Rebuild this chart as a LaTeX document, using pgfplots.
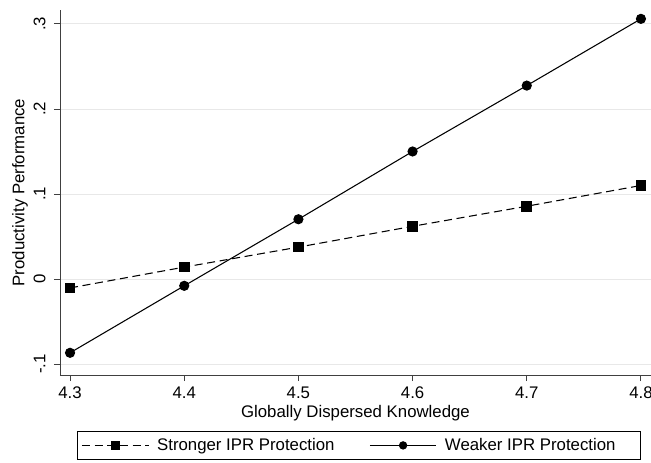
\documentclass[border=0pt]{standalone}
\usepackage{fontspec}
\setmainfont{Liberation Sans}
\usepackage{pgfplots}
\pgfplotsset{compat=1.18}
\begin{document}
\fontsize{12.6}{14}\selectfont
\begin{tikzpicture}[font=\fontsize{12.6}{14}\selectfont]
\begin{axis}[
  scale only axis,
  width=443.25pt, height=273.75pt,
  xmin=4.2912, xmax=4.8088,
  ymin=-0.1129, ymax=0.3164,
  axis x line*=bottom, axis y line*=left,
  axis line style={black!75, line width=0.7pt},
  tick style={black!75, line width=0.7pt},
  tick align=outside, major tick length=4.5pt,
  xtick={4.3,4.4,4.5,4.6,4.7,4.8},
  xticklabels={4.3,4.4,4.5,4.6,4.7,4.8},
  ytick={-0.1,0,0.1,0.2,0.3},
  yticklabels={-.1,0,.1,.2,.3},
  yticklabel style={rotate=90, anchor=south, font=\fontsize{12.6}{14}\selectfont},
  yticklabel shift=2pt,
  xticklabel style={font=\fontsize{12.6}{14}\selectfont},
  ymajorgrids,
  grid style={black!9, line width=0.7pt},
  xlabel={Globally Dispersed Knowledge},
  ylabel={Productivity Performance},
  xlabel style={at={(axis description cs:0.5,-0.1041)}, anchor=center, inner sep=0pt, font=\fontsize{12.6}{14}\selectfont},
  ylabel style={at={(axis description cs:-0.0677,0.5)}, anchor=center, inner sep=0pt, rotate=0, font=\fontsize{12.6}{14}\selectfont},
  legend columns=2,
  legend style={at={(axis description cs:0.0288,-0.1534)}, anchor=north west,
    draw=black, line width=0.6pt, inner xsep=3pt, inner ysep=3pt,
    /tikz/every odd column/.append style={column sep=4pt},
    /tikz/every even column/.append style={column sep=24pt},
    font=\fontsize{12.6}{14}\selectfont},
  legend image code/.code={\draw[#1, mark repeat=2, mark phase=2, every mark/.append style={solid, scale=0.8}] plot coordinates {(0pt,0pt) (25pt,0pt) (50pt,0pt)};},
  legend cell align=left,
]
\addplot[black, line width=0.8pt, dash pattern=on 6pt off 3.5pt, mark=square*, mark size=3.6pt, mark options={solid}]
coordinates {(4.3,-0.0105) (4.4,0.014) (4.5,0.0375) (4.6,0.062) (4.7,0.0856) (4.8,0.110)};
\addlegendentry{Stronger IPR Protection}
\addplot[black, line width=0.8pt, mark=*, mark size=3.4pt]
coordinates {(4.3,-0.0868) (4.4,-0.008) (4.5,0.0703) (4.6,0.150) (4.7,0.2275) (4.8,0.306)};
\addlegendentry{Weaker IPR Protection\rule{14pt}{0pt}}
\end{axis}
\pgfresetboundingbox
\useasboundingbox (-45pt,-65.25pt) rectangle (443.25pt,281.25pt);
\end{tikzpicture}
\end{document}
